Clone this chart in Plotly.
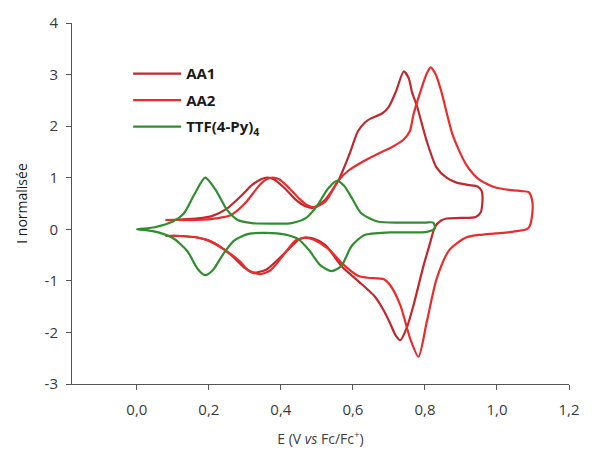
import plotly.graph_objects as go

# --- AA1 (forward scan then reverse) ---
aa1_E = [0.08, 0.12, 0.17, 0.21, 0.25, 0.29, 0.32, 0.345, 0.362, 0.38, 0.41, 0.44, 0.47, 0.49, 0.52, 0.559,
         0.59, 0.614, 0.635, 0.65, 0.682, 0.70, 0.72, 0.741, 0.755, 0.764, 0.777, 0.805, 0.832, 0.86,
         0.886, 0.92, 0.946, 0.957, 0.96, 0.955, 0.941, 0.90, 0.86, 0.845, 0.828, 0.815, 0.796, 0.768,
         0.75, 0.732, 0.718, 0.705, 0.686, 0.659, 0.614, 0.568, 0.523, 0.49, 0.468, 0.45, 0.405, 0.36,
         0.323, 0.30, 0.27, 0.24, 0.20, 0.168, 0.12, 0.08]
aa1_I = [0.18, 0.19, 0.21, 0.26, 0.40, 0.65, 0.86, 0.97, 1.00, 0.97, 0.80, 0.58, 0.44, 0.42, 0.55, 0.94,
         1.45, 1.90, 2.08, 2.15, 2.25, 2.38, 2.68, 3.06, 2.93, 2.66, 2.41, 1.71, 1.20, 1.00,
         0.91, 0.86, 0.83, 0.75, 0.60, 0.33, 0.24, 0.22, 0.21, 0.17, 0.05, -0.25, -0.71, -1.48,
         -1.90, -2.15, -2.05, -1.85, -1.58, -1.29, -1.00, -0.71, -0.30, -0.18, -0.16, -0.20, -0.50, -0.78,
         -0.84, -0.75, -0.55, -0.38, -0.22, -0.16, -0.13, -0.13]

# --- AA2 ---
aa2_E = [0.08, 0.12, 0.17, 0.22, 0.26, 0.30, 0.34, 0.36, 0.377, 0.395, 0.42, 0.45, 0.475, 0.495, 0.525, 0.559,
         0.586, 0.632, 0.68, 0.705, 0.741, 0.758, 0.768, 0.787, 0.805, 0.816, 0.83, 0.846, 0.877, 0.914,
         0.95, 0.996, 1.04, 1.068, 1.088, 1.098, 1.098, 1.09, 1.082, 1.04, 0.996, 0.95, 0.914, 0.868,
         0.832, 0.805, 0.782, 0.759, 0.732, 0.705, 0.686, 0.641, 0.614, 0.573, 0.532, 0.49, 0.468,
         0.44, 0.405, 0.37, 0.34, 0.31, 0.286, 0.24, 0.20, 0.168, 0.12, 0.08]
aa2_I = [0.18, 0.18, 0.18, 0.21, 0.27, 0.50, 0.85, 0.97, 1.00, 0.97, 0.82, 0.60, 0.46, 0.43, 0.55, 0.94,
         1.13, 1.33, 1.50, 1.58, 1.74, 1.90, 2.22, 2.66, 3.02, 3.14, 3.00, 2.66, 1.83, 1.26,
         0.97, 0.81, 0.76, 0.74, 0.72, 0.55, 0.30, 0.05, 0.00, -0.05, -0.08, -0.11, -0.16, -0.40,
         -0.97, -1.80, -2.47, -2.12, -1.48, -1.10, -0.97, -0.94, -0.90, -0.68, -0.38, -0.20, -0.16,
         -0.22, -0.52, -0.80, -0.87, -0.80, -0.62, -0.38, -0.22, -0.16, -0.13, -0.13]

# --- TTF(4-Py)4 ---
ttf_E = [0.0, 0.05, 0.10, 0.13, 0.16, 0.19, 0.22, 0.25, 0.28, 0.32, 0.38, 0.43, 0.47, 0.50, 0.53, 0.555,
         0.575, 0.596, 0.623, 0.668, 0.732, 0.80, 0.823, 0.828, 0.805, 0.705, 0.632, 0.596, 0.568, 0.541,
         0.51, 0.48, 0.45, 0.41, 0.36, 0.31, 0.27, 0.24, 0.21, 0.19, 0.17, 0.14, 0.10, 0.06, 0.03, 0.0]
ttf_I = [0.0, 0.04, 0.15, 0.30, 0.68, 1.00, 0.75, 0.38, 0.18, 0.12, 0.11, 0.12, 0.22, 0.45, 0.78, 0.94,
         0.85, 0.62, 0.31, 0.15, 0.13, 0.13, 0.13, 0.02, -0.05, -0.06, -0.11, -0.33, -0.71, -0.81,
         -0.70, -0.42, -0.20, -0.10, -0.07, -0.09, -0.22, -0.48, -0.80, -0.89, -0.78, -0.42, -0.17, -0.06, -0.02, 0.0]

x_ticks = [0.0, 0.2, 0.4, 0.6, 0.8, 1.0, 1.2]
y_ticks = [-3, -2, -1, 0, 1, 2, 3, 4]
y_ticklabels = ["-3", "-2", "-1", "0", "1", "2", "3", "4"]

font_family = "Open Sans, Liberation Sans, sans-serif"

fig = go.Figure()
fig.add_trace(go.Scatter(x=aa1_E, y=aa1_I, mode="lines", name="<b>AA1</b>", legendgroup="g1",
                         line=dict(color="#C0282E", width=2.2, shape="spline", smoothing=0.7)))
fig.add_trace(go.Scatter(x=aa2_E, y=aa2_I, mode="lines", name="<b>AA2</b>", legendgroup="g2",
                         line=dict(color="#EC2B2B", width=2.2, shape="spline", smoothing=0.7)))
fig.add_trace(go.Scatter(x=ttf_E, y=ttf_I, mode="lines", name="<b>TTF(4-Py)<sub>4</sub></b>", legendgroup="g3",
                         line=dict(color="#2F8F2F", width=2.2, shape="spline", smoothing=0.7)))

fig.update_layout(
    width=592, height=457,
    margin=dict(l=72, r=14, t=20, b=72),
    paper_bgcolor="white", plot_bgcolor="white",
    separators=", ",
    font=dict(family=font_family, size=15, color="#3a3a3a"),
    showlegend=True,
    legend=dict(x=0.113, y=0.905, xanchor="left", yanchor="top",
                bgcolor="rgba(0,0,0,0)", itemwidth=48, tracegroupgap=4,
                font=dict(size=15, color="#1a1a1a")),
    xaxis=dict(range=[-0.18, 1.2], tickvals=x_ticks, tickformat=".1f",
               showgrid=False, zeroline=False, showline=True, linecolor="#555555", linewidth=1,
               ticks="outside", ticklen=5, tickcolor="#555555", ticklabelstandoff=7,
               title=dict(text="E (V <i>vs</i> Fc/Fc<sup>+</sup>)", font=dict(size=14, color="#404040"), standoff=16)),
    yaxis=dict(range=[-3, 4], tickvals=y_ticks, ticktext=y_ticklabels,
               showgrid=False, zeroline=False, showline=True, linecolor="#555555", linewidth=1,
               ticks="outside", ticklen=5, tickcolor="#555555", ticklabelstandoff=5,
               title=dict(text="I normalisée", font=dict(size=14, color="#1a1a1a"), standoff=13)),
)

fig.write_html("out.html", config={"displayModeBar": False},
               post_script="document.body.style.margin='0px';")
